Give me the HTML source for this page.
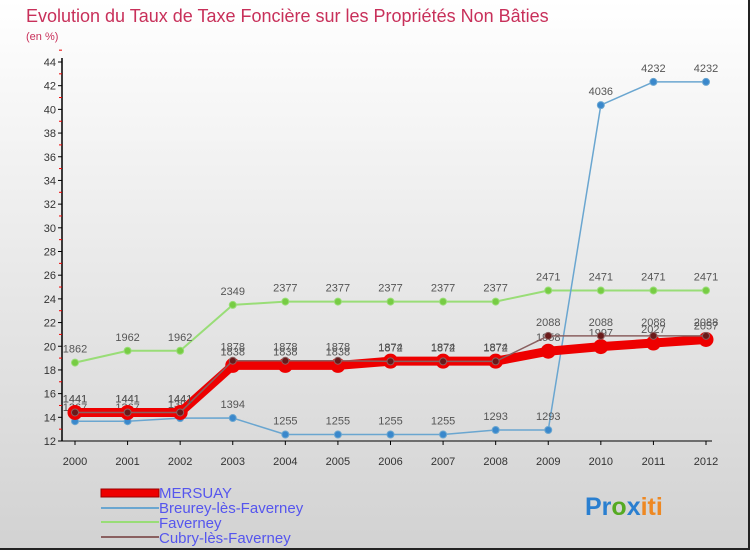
<!DOCTYPE html>
<html><head><meta charset="utf-8"><style>
html,body{margin:0;padding:0}
body{width:750px;height:550px;overflow:hidden;font-family:"Liberation Sans",sans-serif}
#wrap{position:relative;width:750px;height:550px;box-sizing:border-box;border-right:2px solid #222;border-bottom:2px solid #222;background:linear-gradient(#ffffff,#d2d2d2)}
</style></head><body>
<div id="wrap">
<svg id="chart" width="750" height="550" style="position:absolute;left:0;top:0">
<text x="26" y="22" font-size="18" fill="#c8305a">Evolution du Taux de Taxe Foncière sur les Propriétés Non Bâties</text>
<text x="26" y="40" font-size="11" fill="#c8305a">(en %)</text>
<g id="axes"></g>
<g id="series"></g>
<g id="legend" font-size="15" fill="#5555ee">
<rect x="101" y="489" width="58" height="8" fill="#ee0000" stroke="#990000" stroke-width="1"/>
<text x="159" y="498" fill="#5555ee">MERSUAY</text>
<line x1="101" y1="508" x2="159" y2="508" stroke="#6aa6d0" stroke-width="2"/>
<text x="159" y="513" fill="#5555ee">Breurey-lès-Faverney</text>
<line x1="101" y1="522" x2="159" y2="522" stroke="#99dd77" stroke-width="2"/>
<text x="159" y="528" fill="#5555ee">Faverney</text>
<line x1="101" y1="537" x2="159" y2="537" stroke="#8a6060" stroke-width="2"/>
<text x="159" y="543" fill="#5555ee">Cubry-lès-Faverney</text>
</g>
<text x="585" y="515" font-size="25" font-weight="bold"><tspan fill="#2a7fd0">Pr</tspan><tspan fill="#55aa22">o</tspan><tspan fill="#2a7fd0">x</tspan><tspan fill="#ee8822">iti</tspan></text>
</svg>
</div>
<script>
const years=[2000,2001,2002,2003,2004,2005,2006,2007,2008,2009,2010,2011,2012];
const yTicks=[12,14,16,18,20,22,24,26,28,30,32,34,36,38,40,42,44];
const mersuay=[14.41,14.41,14.41,18.38,18.38,18.38,18.74,18.74,18.74,19.58,19.97,20.27,20.57];
const breurey=[13.67,13.67,13.93,13.94,12.55,12.55,12.55,12.55,12.93,12.93,40.36,42.32,42.32];
const faverney=[18.62,19.62,19.62,23.49,23.77,23.77,23.77,23.77,23.77,24.71,24.71,24.71,24.71];
const cubry=[14.41,14.41,14.41,18.78,18.78,18.78,18.72,18.72,18.72,20.88,20.88,20.88,20.88];
const NS="http://www.w3.org/2000/svg";
const x=i=>75+i*(706-75)/(years.length-1);
const y=v=>441-(v-12)*(441-62)/32;
function mk(tag,attrs,parent){const e=document.createElementNS(NS,tag);for(const k in attrs)e.setAttribute(k,attrs[k]);parent.appendChild(e);return e;}
const axes=document.getElementById('axes'),ser=document.getElementById('series');
let ax=mk('line',{x1:62,y1:58,x2:62,y2:441,stroke:'#000','stroke-width':1.5},axes);


let xa=mk('line',{x1:62,y1:441,x2:712,y2:441,stroke:'#000','stroke-width':1},axes);


yTicks.forEach(t=>{
 mk('line',{x1:58,y1:y(t),x2:62,y2:y(t),stroke:'#000'},axes);
 mk('line',{x1:59,y1:y(t+1),x2:62,y2:y(t+1),stroke:'#e00'},axes);
 const tx=mk('text',{x:56,y:y(t)+4,'font-size':11,'text-anchor':'end',fill:'#333'},axes);
 tx.textContent=t;
 
 
});
years.forEach((yr,i)=>{
 mk('line',{x1:x(i),y1:441,x2:x(i),y2:445,stroke:'#000'},axes);
 const tx=mk('text',{x:x(i),y:465,'font-size':11,'text-anchor':'middle',fill:'#333'},axes);
 tx.textContent=yr;
 
 
});
function draw(name,vals,color,w,r,dotFill,labelDy){
 const g=mk('g',{},ser);
 
 
 const p=mk('polyline',{points:vals.map((v,i)=>x(i)+','+y(v)).join(' '),fill:'none',stroke:color,'stroke-width':w,'stroke-linejoin':'round'},g);
 
 
 vals.forEach((v,i)=>{
  const c=mk('circle',{cx:x(i),cy:y(v),r:r,fill:dotFill,stroke:color,'stroke-width':1},g);
  
  
  const t=mk('text',{x:x(i),y:y(v)+labelDy,'font-size':11,'text-anchor':'middle',fill:'#555'},g);
  t.textContent=String(v).replace('.','');
  
  
 });
}
draw('faverney',faverney,'#99dd77',2,3.5,'#77cc44',-10);
draw('breurey',breurey,'#6aa6d0',1.5,3.5,'#3a88cc',-10);
draw('mersuay',mersuay,'#ee0000',9,7,'#ee0000',-10);
draw('cubry',cubry,'#8a6060',1.5,3.5,'#6a1a1a',-10);
</script>
</body></html>
